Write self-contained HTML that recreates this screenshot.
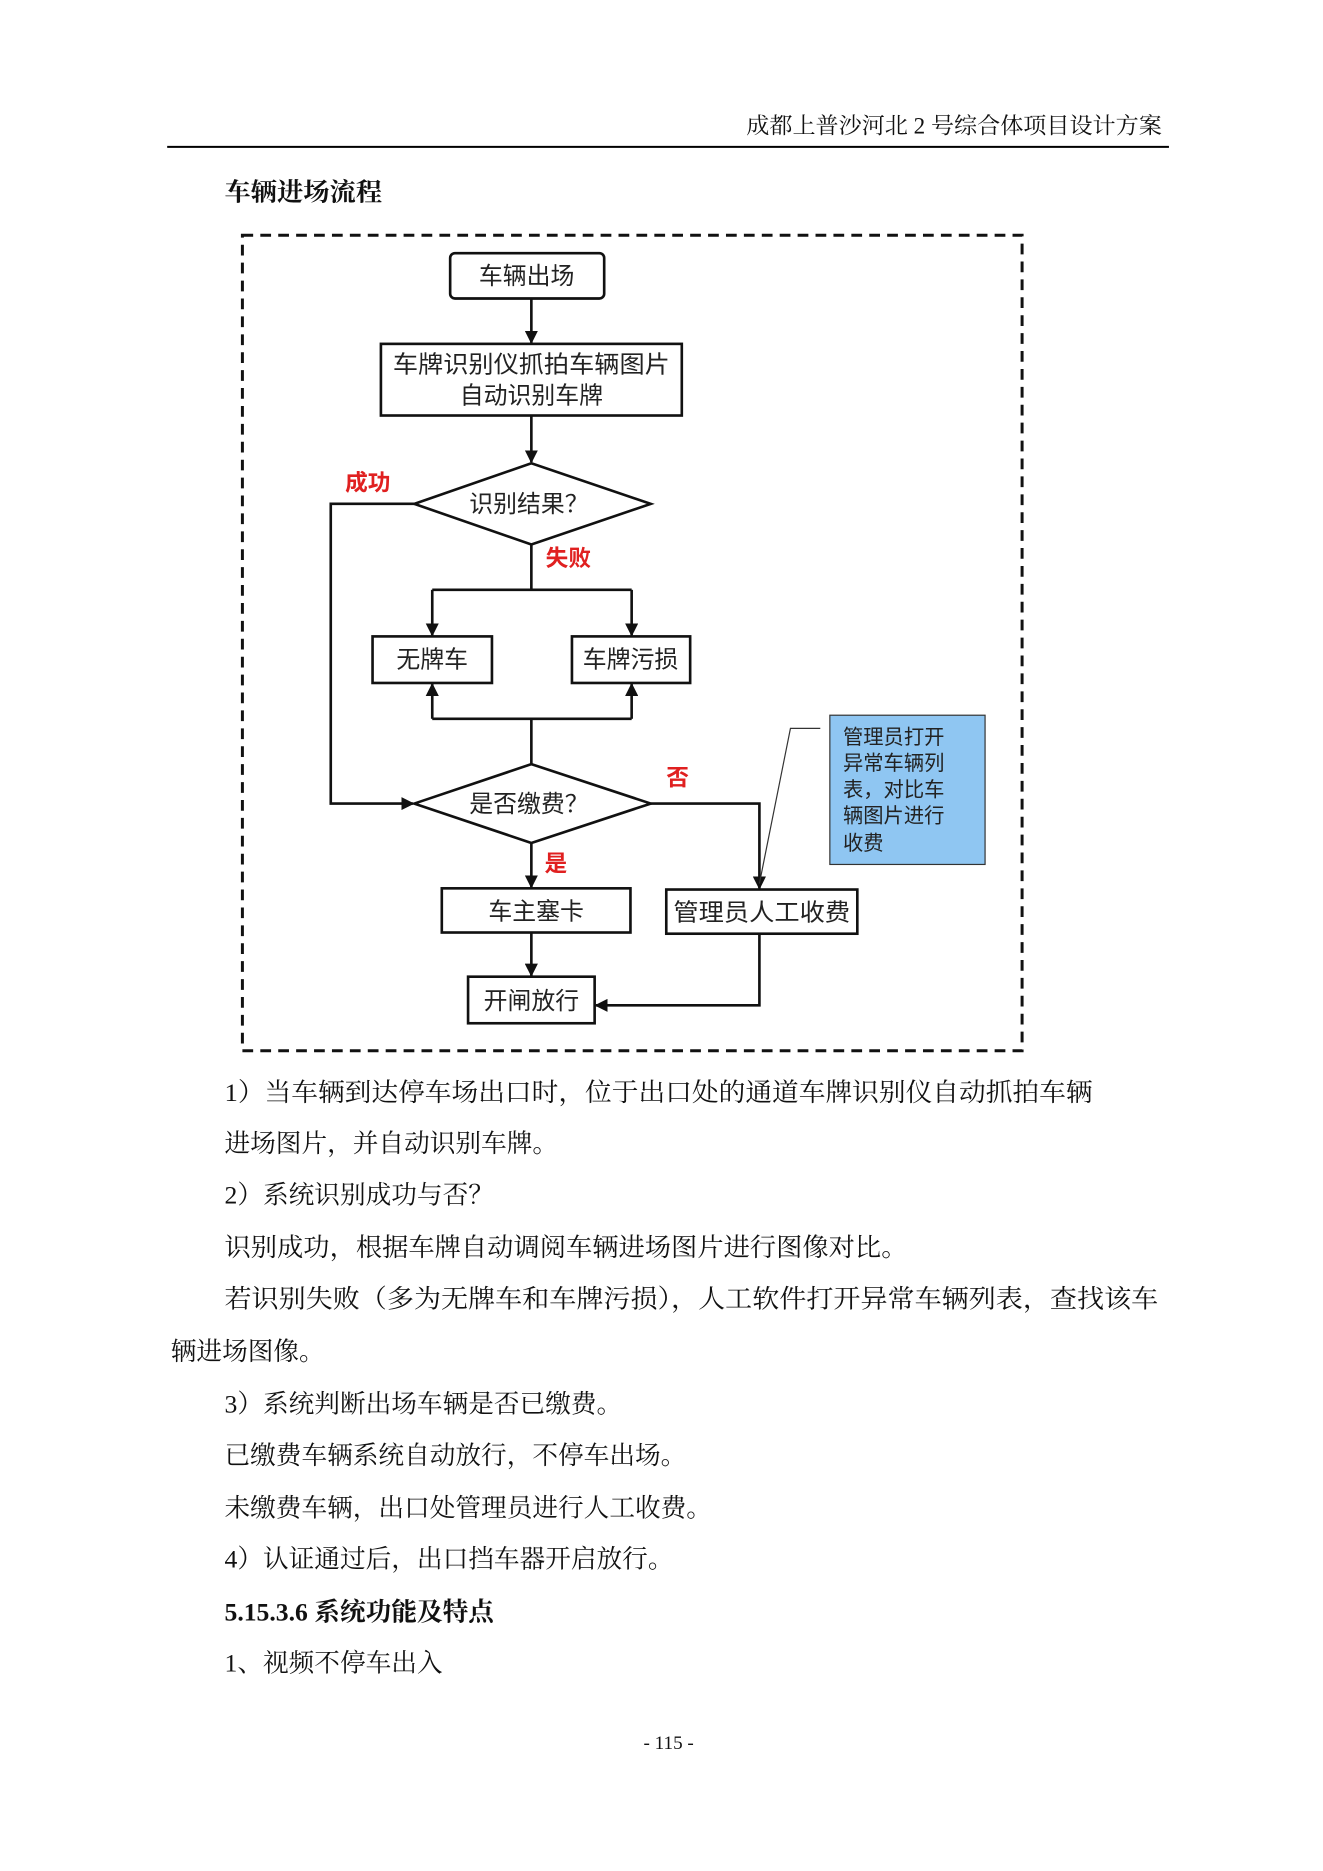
<!DOCTYPE html>
<html><head><meta charset="utf-8"><style>
html,body{margin:0;padding:0;background:#fff;}
svg{display:block;}
.s{font-family:"Liberation Serif","Noto Serif CJK SC",serif;fill:#111;}
.f{font-family:"Liberation Sans","Noto Sans CJK SC",sans-serif;fill:#222;}
.r{font-family:"Liberation Sans","Noto Sans CJK SC",sans-serif;fill:#e02020;font-weight:bold;}
</style></head><body>
<svg width="1323" height="1871" viewBox="0 0 1108 1567" xmlns="http://www.w3.org/2000/svg">
<defs><marker id="a" viewBox="0 0 10 10" refX="9" refY="5" markerWidth="5" markerHeight="5" orient="auto"><path d="M0,0L10,5L0,10z" fill="#111"/></marker></defs>
<text class="s" x="625" y="112" font-size="19" textLength="348" lengthAdjust="spacingAndGlyphs">成都上普沙河北 2 号综合体项目设计方案</text>
<line x1="140" y1="123" x2="979" y2="123" stroke="#000" stroke-width="1.6"/>
<text class="s" x="188" y="168" font-size="21" font-weight="bold" textLength="132" lengthAdjust="spacingAndGlyphs">车辆进场流程</text>
<rect x="203" y="197" width="653" height="683" fill="none" stroke="#111" stroke-width="2.5" stroke-dasharray="9,6"/>
<g stroke="#111" stroke-width="2.2" fill="none">
<rect x="377" y="212" width="129" height="38" rx="4" fill="#fff"/>
<rect x="319" y="288" width="252" height="60" fill="#fff"/>
<polygon points="347,422 445,388 545,422 445,456" fill="#fff"/>
<rect x="312" y="533" width="100" height="39" fill="#fff"/>
<rect x="479" y="533" width="99" height="39" fill="#fff"/>
<polygon points="347,673 445,640 545,673 445,706" fill="#fff"/>
<rect x="370" y="744" width="158" height="37" fill="#fff"/>
<rect x="558" y="745" width="160" height="37" fill="#fff"/>
<rect x="392" y="818" width="106" height="39" fill="#fff"/>
<line x1="445" y1="250" x2="445" y2="287" marker-end="url(#a)"/>
<line x1="445" y1="348" x2="445" y2="387" marker-end="url(#a)"/>
<polyline points="347,422 277,422 277,673 346,673" marker-end="url(#a)"/>
<line x1="445" y1="456" x2="445" y2="494"/>
<polyline points="362,494 529,494"/>
<line x1="362" y1="494" x2="362" y2="532" marker-end="url(#a)"/>
<line x1="529" y1="494" x2="529" y2="532" marker-end="url(#a)"/>
<line x1="362" y1="602" x2="362" y2="573" marker-end="url(#a)"/>
<line x1="529" y1="602" x2="529" y2="573" marker-end="url(#a)"/>
<polyline points="362,602 529,602"/>
<line x1="445" y1="602" x2="445" y2="640"/>
<polyline points="545,673 636,673 636,744" marker-end="url(#a)"/>
<line x1="445" y1="706" x2="445" y2="743" marker-end="url(#a)"/>
<line x1="445" y1="781" x2="445" y2="817" marker-end="url(#a)"/>
<polyline points="636,782 636,842 499,842" marker-end="url(#a)"/>
</g>
<rect x="695" y="599" width="130" height="125" fill="#8fc6f2" stroke="#333" stroke-width="1"/>
<polyline points="687,610 662,610 636,740" fill="none" stroke="#333" stroke-width="1"/>
<g class="f" font-size="20" text-anchor="middle">
<text x="441" y="238">车辆出场</text>
<text x="445" y="312" textLength="232" lengthAdjust="spacingAndGlyphs">车牌识别仪抓拍车辆图片</text>
<text x="445" y="338">自动识别车牌</text>
<text x="443" y="429">识别结果？</text>
<text x="362" y="559">无牌车</text>
<text x="528" y="559">车牌污损</text>
<text x="443" y="680">是否缴费？</text>
<text x="449" y="770">车主塞卡</text>
<text x="638" y="771" textLength="148" lengthAdjust="spacingAndGlyphs">管理员人工收费</text>
</g>
<text class="f" x="445" y="845" font-size="20" text-anchor="middle">开闸放行</text>
<g class="f" font-size="17">
<text x="706" y="623">管理员打开</text>
<text x="706" y="645">异常车辆列</text>
<text x="706" y="667">表，对比车</text>
<text x="706" y="689">辆图片进行</text>
<text x="706" y="712">收费</text>
</g>
<g class="r" font-size="19">
<text x="289" y="411">成功</text>
<text x="457" y="474">失败</text>
<text x="558" y="658">否</text>
<text x="456" y="730">是</text>
</g>
<g class="s" font-size="21.5">
<text x="188" y="922" textLength="727" lengthAdjust="spacingAndGlyphs">1）当车辆到达停车场出口时，位于出口处的通道车牌识别仪自动抓拍车辆</text>
<text x="188" y="965">进场图片，并自动识别车牌。</text>
<text x="188" y="1008">2）系统识别成功与否？</text>
<text x="188" y="1052" textLength="572" lengthAdjust="spacingAndGlyphs">识别成功，根据车牌自动调阅车辆进场图片进行图像对比。</text>
<text x="188" y="1095" textLength="782" lengthAdjust="spacingAndGlyphs">若识别失败（多为无牌车和车牌污损），人工软件打开异常车辆列表，查找该车</text>
<text x="143" y="1139">辆进场图像。</text>
<text x="188" y="1183">3）系统判断出场车辆是否已缴费。</text>
<text x="188" y="1226">已缴费车辆系统自动放行，不停车出场。</text>
<text x="188" y="1270">未缴费车辆，出口处管理员进行人工收费。</text>
<text x="188" y="1313">4）认证通过后，出口挡车器开启放行。</text>
<text x="188" y="1357" font-weight="bold">5.15.3.6 系统功能及特点</text>
<text x="188" y="1400">1、视频不停车出入</text>
</g>
<text class="s" x="560" y="1465" font-size="16" text-anchor="middle">- 115 -</text>
</svg>
</body></html>
